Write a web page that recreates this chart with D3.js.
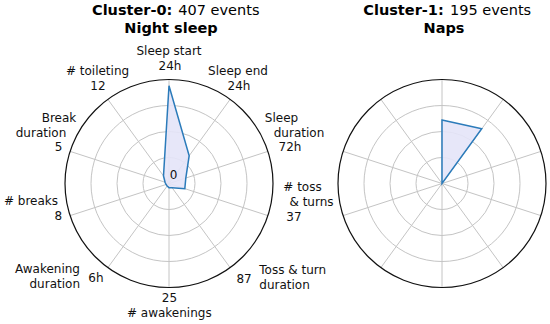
<!DOCTYPE html>
<html>
<head>
<meta charset="utf-8">
<script src="https://cdn.jsdelivr.net/npm/d3@7"></script>
<style>
  html, body { margin: 0; padding: 0; background: #fff; }
  svg { display: block; font-family: "DejaVu Sans", Verdana, sans-serif; }
</style>
</head>
<body>
<svg id="chart" width="550" height="324"></svg>
<script>
// ---------- DATA ----------
const categories = [
  "Sleep start", "Sleep end", "Sleep\nduration", "# toss\n& turns",
  "Toss & turn\nduration", "# awakenings", "Awakening\nduration",
  "# breaks", "Break\nduration", "# toileting"
];
const maxLabels = ["24h", "24h", "72h", "37", "87", "25", "6h", "8", "5", "12"];
// normalised values (0..1) for each axis
const cluster0Values = [0.94, 0.33, 0.17, 0.16, 0.05, 0.04, 0.03, 0.03, 0.04, 0.09];
const cluster1Values = [0.61, 0.65, 0, 0, 0, 0, 0, 0, 0, 0];
const panelTitles = [
  { bold: "Cluster-0:", rest: "407 events", sub: "Night sleep" },
  { bold: "Cluster-1:", rest: "195 events", sub: "Naps" }
];
const gridTicks = [0.25, 0.5, 0.75];
const centreLabel = "0";

// ---------- LAYOUT ----------
const W = 550, H = 324, R = 104;
const panels = [
  { cx: 169, cy: 183.5, values: cluster0Values, labels: true, boldX: 92, restX: 178.3, t2x: 171 },
  { cx: 442, cy: 183.5, values: cluster1Values, labels: false, boldX: 363.3, restX: 450, t2x: 444 }
];
// per-axis label placement: name lines [dx, dy, anchor] and max label [dx, dy, anchor]
const labelLayout = [
  { name: [[0, -128.5, "middle"]], max: [1, -113.5, "middle"] },
  { name: [[69, -108.5, "middle"]], max: [70, -93.5, "middle"] },
  { name: [[112.5, -61.8, "middle"], [130, -46.8, "middle"]], max: [121, -32.8, "middle"] },
  { name: [[133.5, 7.2, "middle"], [142.5, 22.2, "middle"]], max: [125, 37.2, "middle"] },
  { name: [[90.3, 90.5, "start"], [90.3, 105.8, "start"]], max: [82.7, 99.8, "end"] },
  { name: [[0.3, 133.2, "middle"]], max: [0.5, 118.2, "middle"] },
  { name: [[-89, 89.8, "end"], [-89, 104.8, "end"]], max: [-80.7, 98.2, "start"] },
  { name: [[-138, 21.5, "middle"]], max: [-110.7, 36.5, "middle"] },
  { name: [[-110, -61.8, "middle"], [-128, -46.8, "middle"]], max: [-110.5, -32.8, "middle"] },
  { name: [[-71.5, -108.5, "middle"]], max: [-71, -93.5, "middle"] }
];

const svg = d3.select("#chart");
const n = categories.length;
const angle = d3.scaleLinear().domain([0, n]).range([0, 2 * Math.PI]);
const r = d3.scaleLinear().domain([0, 1]).range([0, R]);

panels.forEach((p, pi) => {
  const g = svg.append("g").attr("transform", `translate(${p.cx},${p.cy})`);

  // grid circles
  g.selectAll("circle.grid").data(gridTicks).enter().append("circle")
    .attr("class", "grid").attr("r", d => r(d))
    .attr("fill", "none").attr("stroke", "#c4c4c4").attr("stroke-width", 1);

  // spokes
  g.selectAll("line.spoke").data(categories).enter().append("line")
    .attr("x1", 0).attr("y1", 0)
    .attr("x2", (d, i) => r(1) * Math.sin(angle(i)))
    .attr("y2", (d, i) => -r(1) * Math.cos(angle(i)))
    .attr("stroke", "#c4c4c4").attr("stroke-width", 1);

  // outer circle
  g.append("circle").attr("r", r(1)).attr("fill", "none")
    .attr("stroke", "#111").attr("stroke-width", 1.2);

  // polygon
  const line = d3.lineRadial()
    .angle((d, i) => angle(i))
    .radius(d => r(d))
    .curve(d3.curveLinearClosed);
  g.append("path").datum(p.values)
    .attr("d", line)
    .attr("fill", "#e4e4f8").attr("fill-opacity", 0.9)
    .attr("stroke", "#2b7bba").attr("stroke-width", 1.5)
    .attr("stroke-linejoin", "miter");

  // titles
  const t = panelTitles[pi];
  svg.append("text").attr("x", p.boldX).attr("y", 15)
    .attr("text-anchor", "start").attr("font-size", 14.5).attr("font-weight", "bold")
    .attr("fill", "#000").text(t.bold);
  svg.append("text").attr("x", p.restX).attr("y", 15)
    .attr("text-anchor", "start").attr("font-size", 14.5)
    .attr("fill", "#000").text(t.rest);
  svg.append("text").attr("x", p.t2x).attr("y", 33.3)
    .attr("text-anchor", "middle").attr("font-size", 14.5).attr("font-weight", "bold")
    .attr("fill", "#000").text(t.sub);

  if (p.labels) {
    categories.forEach((c, i) => {
      const lines = c.split("\n");
      const lay = labelLayout[i];
      lines.forEach((ln, li) => {
        const [dx, dy, anchor] = lay.name[li];
        g.append("text").attr("x", dx).attr("y", dy)
          .attr("text-anchor", anchor).attr("font-size", 12).attr("fill", "#111")
          .text(ln);
      });
      const [mx, my, ma] = lay.max;
      g.append("text").attr("x", mx).attr("y", my)
        .attr("text-anchor", ma).attr("font-size", 12).attr("fill", "#111")
        .text(maxLabels[i]);
    });
    g.append("text").attr("x", 4.5).attr("y", -4.5)
      .attr("text-anchor", "middle").attr("font-size", 12).attr("fill", "#111")
      .text(centreLabel);
  }
});
</script>
</body>
</html>
